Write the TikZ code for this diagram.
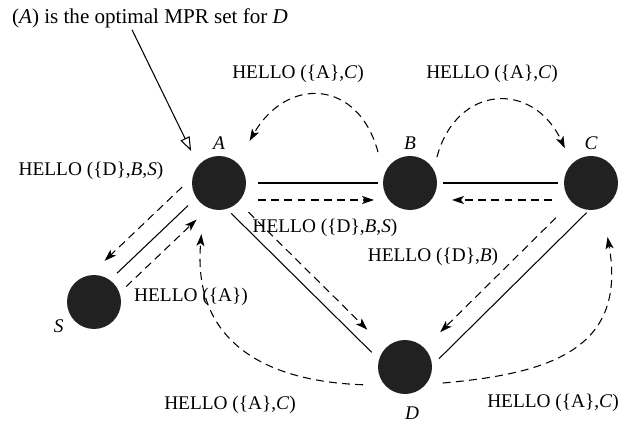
\documentclass[tikz,border=0pt]{standalone}
\usepackage{fontspec}
\setmainfont{Liberation Serif}
\usetikzlibrary{calc,arrows.meta}
\tikzset {>=Stealth}
\tikzset{
  host/.style={circle,fill=black!87,minimum size=1.08cm,inner sep=0pt},
  lbl/.style={inner sep=0pt,font=\fontsize{11}{13}\selectfont\itshape},
  link/.style={line width=0.6pt},
  msg/.style={line width=0.6pt,dash pattern=on 4.5pt off 3pt,-{Stealth[length=2.4mm,width=1.6mm,inset=0.6mm]}},
  hello/.style={font=\fontsize{11}{13}\selectfont,inner sep=1pt}
}

\begin{document}
\begin{tikzpicture}[label distance=0.12cm]
\useasboundingbox (0,0) rectangle (12.68,8.46);
% hosts
\node[host,label={[lbl]above:A}] (A) at (4.38,4.8) {};
\node[host,label={[lbl]above:B}] (B) at (8.2,4.8) {};
\node[host,label={[lbl]above:C}] (C) at (11.82,4.8) {};
\node[host,label={[lbl,label distance=0.15cm]210:S}] (S) at (1.88,2.42) {};
\node[host,label={[lbl,label distance=0.25cm,xshift=0.14cm]below:D}] (D) at (8.1,1.12) {};
% links
\draw[link] ($(A)!0.78cm!(B)$) -- ($(B)!0.64cm!(A)$);
\draw[link] ($(B)!0.66cm!(C)$) -- ($(C)!0.66cm!(B)$);
\draw[link] ($(A)!0.76cm!(S)!0.1cm!-90:(S)$) -- ($(S)!0.73cm!(A)!0.1cm!90:(A)$);
\draw[link] ($(A)!0.6cm!(D)!0.26cm!-90:(D)$) -- ($(D)!0.68cm!(A)!0.26cm!90:(A)$);
\draw[link] ($(C)!0.48cm!(D)!0.36cm!90:(D)$) -- ($(D)!0.6cm!(C)!0.36cm!-90:(C)$);
% hello messages
\draw[msg] ($(A)!0.78cm!(B)!0.34cm!-90:(B)$) -- ($(B)!0.72cm!(A)!0.34cm!90:(A)$);
\draw[msg] ($(C)!0.78cm!(B)!0.34cm!90:(B)$) -- ($(B)!0.84cm!(C)!0.34cm!-90:(C)$);
\draw[msg] ($(A)!0.59cm!(S)!0.45cm!-90:(S)$) -- ($(S)!0.72cm!(A)!0.45cm!90:(A)$);
\draw[msg] ($(S)!0.68cm!(A)!0.22cm!-90:(A)$) -- ($(A)!0.83cm!(S)!0.22cm!90:(S)$);
\draw[msg] ($(A)!0.83cm!(D)$) -- ($(D)!1.06cm!(A)$);
\draw[msg] ($(C)!0.99cm!(D)$) -- ($(D)!0.99cm!(C)$);
\draw[msg] ([shift={(136:0.89)}]B.center) to[out=105,in=60,looseness=1.5] ([shift={(54:1.04)}]A.center);
\draw[msg] ([shift={(44:0.75)}]B.center) to[out=75,in=115,looseness=1.5] ([shift={(127:0.87)}]C.center);
\draw[msg] ([shift={(203:0.91)}]D.center) to[out=178,in=265,looseness=1.2] ([shift={(251:1.08)}]A.center);
\draw[msg] ([shift={(337:0.82)}]D.center) to[out=5,in=280,looseness=1.3] ([shift={(287:1.13)}]C.center);
% texts
\node[hello] (hBA) at (5.96,6.98) {HELLO (\{A\},\textit{C})};
\node[hello] (hBC) at (9.84,6.98) {HELLO (\{A\},\textit{C})};
\node[hello] (hAS) at (1.82,5.04) {HELLO (\{D\},\textit{B},\textit{S})};
\node[hello] (hAB) at (6.5,3.9) {HELLO (\{D\},\textit{B},\textit{S})};
\node[hello] (hCD) at (8.66,3.32) {HELLO (\{D\},\textit{B})};
\node[hello] (hSA) at (3.82,2.52) {HELLO (\{A\})};
\node[hello] (hDA) at (4.6,0.36) {HELLO (\{A\},\textit{C})};
\node[hello] (hDC) at (11.06,0.4) {HELLO (\{A\},\textit{C})};
\node[hello,font=\fontsize{12}{14}\selectfont] (note) at (3.0,8.1) {(\textit{A}) is the optimal MPR set for \textit{D}};
\draw[link,-{Triangle[open,length=2.8mm,width=2mm]}] ([xshift=-0.36cm]note.south) -- ([shift={(131:0.85)}]A.center);
\end{tikzpicture}
\end{document}
